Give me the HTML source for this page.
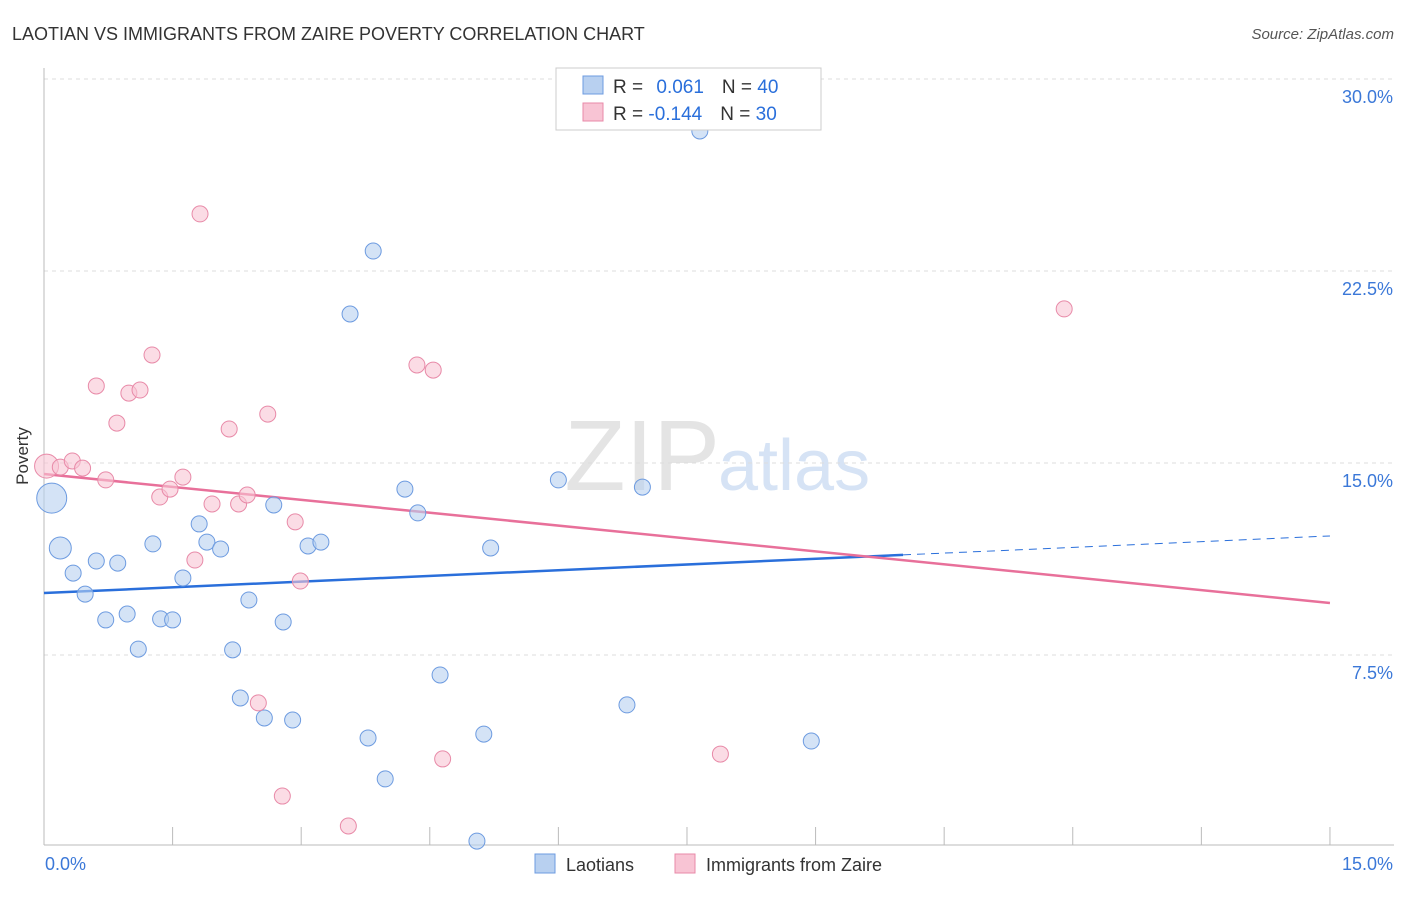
<!DOCTYPE html>
<html><head><meta charset="utf-8"><style>
body{margin:0;background:#fff;font-family:"Liberation Sans",sans-serif;}
svg text{font-family:"Liberation Sans",sans-serif;}
</style></head><body>
<svg width="1406" height="892" id="chart">
<text x="12" y="40" font-size="18" fill="#333">LAOTIAN VS IMMIGRANTS FROM ZAIRE POVERTY CORRELATION CHART</text>
<text x="1394" y="39" font-size="15" fill="#555" text-anchor="end" font-style="italic">Source: ZipAtlas.com</text>
<text x="720" y="490" font-size="100" fill="#e4e4e4" text-anchor="end" font-family="Liberation Serif">ZIP</text>
<text x="718" y="490" font-size="72" fill="#d6e3f5">atlas</text>
<g id="grid"></g><g id="axes"></g><g id="lines"></g><g id="pts"></g>
<text x="28" y="456" font-size="17" fill="#333" text-anchor="middle" transform="rotate(-90 28 456)">Poverty</text>
<g>
<rect x="556" y="68" width="265" height="62" fill="#fff" stroke="#ccc"/>
<rect x="583" y="76" width="20" height="18" fill="#b8d0f0" stroke="#6d9be0"/>
<text x="613" y="93" font-size="19" fill="#333">R = <tspan fill="#2a6fdb" dx="8">0.061</tspan><tspan dx="18">N = </tspan><tspan fill="#2a6fdb">40</tspan></text>
<rect x="583" y="103" width="20" height="18" fill="#f8c4d4" stroke="#e88aa8"/>
<text x="613" y="120" font-size="19" fill="#333">R = <tspan fill="#2a6fdb">-0.144</tspan><tspan dx="18">N = </tspan><tspan fill="#2a6fdb">30</tspan></text>
</g>
<g>
<rect x="535" y="854" width="20" height="19" fill="#b8d0f0" stroke="#6d9be0"/>
<text x="566" y="871" font-size="18" fill="#333">Laotians</text>
<rect x="675" y="854" width="20" height="19" fill="#f8c4d4" stroke="#e88aa8"/>
<text x="706" y="871" font-size="18" fill="#333">Immigrants from Zaire</text>
</g>
</svg>
<script>
const blueX=[7.65,3.84,3.57,0.09,0.19,0.34,0.48,0.61,0.86,0.72,0.97,1.10,1.27,1.36,1.50,1.62,1.81,1.90,2.06,2.20,2.29,2.39,2.57,2.68,2.79,2.90,3.08,3.23,3.78,3.98,4.21,4.36,4.62,5.05,5.13,5.21,6.00,6.80,6.98,8.95];
const blueY=[27.97,23.28,20.82,13.63,11.68,10.70,9.88,11.17,11.09,8.87,9.10,7.73,11.84,8.91,8.87,10.51,12.62,11.91,11.64,7.70,5.82,9.65,5.04,13.36,8.79,4.96,11.76,11.91,4.26,2.66,13.98,13.05,6.72,0.23,4.41,11.68,14.34,5.55,14.06,4.14];
const blueR=[8,8,8,15,11,8,8,8,8,8,8,8,8,8,8,8,8,8,8,8,8,8,8,8,8,8,8,8,8,8,8,8,8,8,8,8,8,8,8,8];
const pinkX=[0.03,0.19,0.33,0.45,0.61,0.72,0.85,0.99,1.12,1.26,1.35,1.47,1.62,1.76,1.82,1.96,2.16,2.27,2.37,2.50,2.61,2.78,2.93,2.99,3.55,4.35,4.54,4.65,7.89,11.90];
const pinkY=[14.88,14.84,15.08,14.80,18.01,14.34,16.56,17.73,17.85,19.22,13.67,13.98,14.45,11.21,24.73,13.40,16.33,13.40,13.75,5.63,16.91,1.99,12.70,10.39,0.82,18.83,18.63,3.44,3.63,21.02];
const pinkR=[12,8,8,8,8,8,8,8,8,8,8,8,8,8,8,8,8,8,8,8,8,8,8,8,8,8,8,8,8,8];
const blueTrend=[9.92,12.15];
const pinkTrend=[14.57,9.53];
const yTicks=[7.5,15,22.5,30];
const xTickLabels=["0.0%","15.0%"];
const NS="http://www.w3.org/2000/svg";
const X=v=>44+v*85.73, Y=v=>847-v*25.6;
function mk(t,a,p){const e=document.createElementNS(NS,t);for(const k in a)e.setAttribute(k,a[k]);document.getElementById(p).appendChild(e);return e;}
yTicks.forEach(t=>{
 const l=mk('line',{x1:44,x2:1394,y1:Y(t),y2:Y(t),stroke:'#ddd','stroke-dasharray':'4,4'},'grid');
 
 
 const tx=mk('text',{x:1393,y:Y(t)+24,'font-size':18,fill:'#3b78d8','text-anchor':'end'},'grid');
 tx.textContent=t.toFixed(1)+'%';
 
 
});
const ax=mk('line',{x1:44,x2:44,y1:68,y2:845,stroke:'#bbb'},'axes');


const bx=mk('line',{x1:44,x2:1394,y1:845,y2:845,stroke:'#bbb'},'axes');


for(let i=1;i<=10;i++){const t=mk('line',{x1:X(i*1.5),x2:X(i*1.5),y1:827,y2:845,stroke:'#bbb'},'axes');
 
 }
const x0=mk('text',{x:45,y:870,'font-size':18,fill:'#3b78d8'},'axes');x0.textContent=xTickLabels[0];


const x1=mk('text',{x:1393,y:870,'font-size':18,fill:'#3b78d8','text-anchor':'end'},'axes');x1.textContent=xTickLabels[1];


const bAt=v=>blueTrend[0]+(blueTrend[1]-blueTrend[0])*v/15;
const b1=mk('line',{x1:X(0),y1:Y(bAt(0)),x2:X(10.02),y2:Y(bAt(10.02)),stroke:'#2a6fdb','stroke-width':2.5},'lines');


const b2=mk('line',{x1:X(10.02),y1:Y(bAt(10.02)),x2:X(15),y2:Y(bAt(15)),stroke:'#2a6fdb','stroke-width':1,'stroke-dasharray':'8,6'},'lines');


const p1=mk('line',{x1:X(0),y1:Y(pinkTrend[0]),x2:X(15),y2:Y(pinkTrend[1]),stroke:'#e8709a','stroke-width':2.5},'lines');


blueX.forEach((v,i)=>{const c=mk('circle',{cx:X(v),cy:Y(blueY[i]),r:blueR[i],fill:'rgba(184,208,240,0.6)',stroke:'#6d9be0','stroke-width':1},'pts');
 
 });
pinkX.forEach((v,i)=>{const c=mk('circle',{cx:X(v),cy:Y(pinkY[i]),r:pinkR[i],fill:'rgba(248,196,212,0.6)',stroke:'#e88aa8','stroke-width':1},'pts');
 
 });
</script>
</body></html>
